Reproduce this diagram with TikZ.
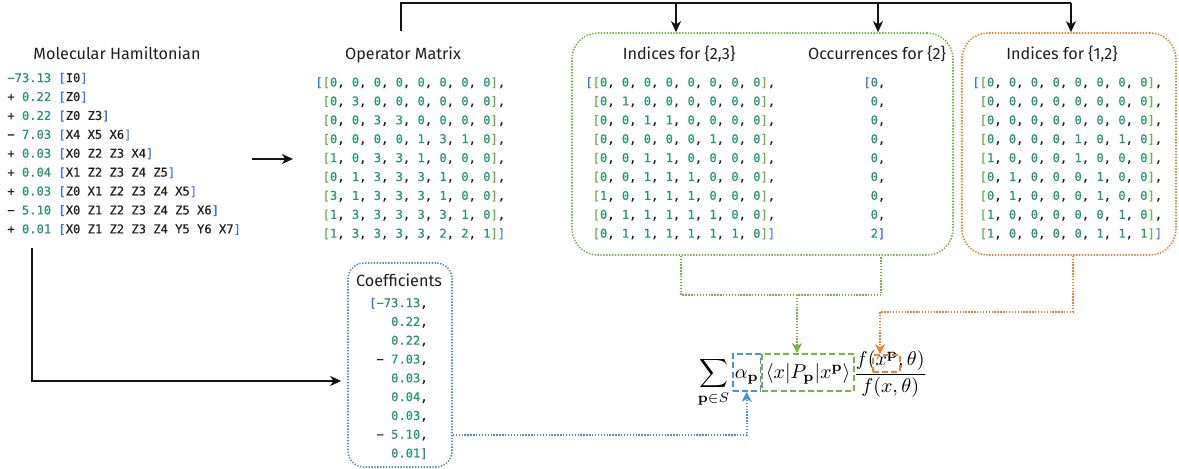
\documentclass[tikz,border=0pt]{standalone}
\usepackage[no-math]{fontspec}
\newfontfamily\headf{Fira Sans}
\newfontfamily\monof{DejaVu Sans Mono}[FakeBold=0.5]
\usetikzlibrary{arrows.meta,fit,calc}
\definecolor{numg}{HTML}{27936A}
\definecolor{brg}{HTML}{6AB04C}
\definecolor{brb}{HTML}{3B6FF0}
\definecolor{boxg}{HTML}{74B446}
\definecolor{boxo}{HTML}{F07F2E}
\definecolor{boxb}{HTML}{4A90E2}
\definecolor{txt}{HTML}{1E1E1E}
\newcommand\nm[1]{\textcolor{numg}{#1}}
\newcommand\bb[1]{\textcolor{brb}{#1}}
\newcommand\gbr[1]{\textcolor{brg}{#1}}
\newcommand\mr[8]{\gbr{[}\nm{#1},\ \nm{#2},\ \nm{#3},\ \nm{#4},\ \nm{#5},\ \nm{#6},\ \nm{#7},\ \nm{#8}\gbr{]}}
\newcommand\mpad{\phantom{[}}
\tikzset{
  head/.style={font=\headf\fontsize{8.1}{10}\selectfont, inner sep=0, anchor=base, text=txt},
  mono/.style={font=\monof\fontsize{6.06}{7}\selectfont, inner sep=0, text=txt},
  dotln/.style={line width=0.8pt, dash pattern=on 0.7pt off 0.75pt},
  gboxst/.style={draw=boxg, dotln, rounded corners=13pt, inner sep=0},
  oboxst/.style={draw=boxo, dotln, rounded corners=13pt, inner sep=0},
  bboxst/.style={draw=boxb, dotln, rounded corners=8pt, inner sep=0},
  blk/.style={draw=black!92, line width=1pt},
  tip/.style={-{Stealth[length=5.5pt,width=5pt,inset=1.6pt]}},
  ctip/.style={-{Stealth[length=5pt,width=5pt,inset=1.4pt]}},
  gline/.style={draw=boxg, dotln},
  oline/.style={draw=boxo, dotln},
  bline/.style={draw=boxb, dotln},
  dbox/.style={draw=#1, line width=0.8pt, dash pattern=on 3pt off 1.6pt, anchor=base west,
     text height=12.5pt, text depth=6pt, inner xsep=1pt, inner ysep=0},
}
\begin{document}
\begin{tikzpicture}[x=0.5pt,y=-0.5pt]
\useasboundingbox (0,0) rectangle (1179,469);

% ---------- boxes ----------
\node[gboxst, fit={(572,33) (953,255)}] (gbox) {};
\node[oboxst, fit={(962,33) (1176,255)}] (obox) {};
\node[bboxst, fit={(348,263) (452,467)}] (cbox) {};

% ---------- headings ----------
\node[head] (hamT) at (117,60) {Molecular Hamiltonian};
\node[head] (opT) at (403,60) {Operator Matrix};
\node[head] (indAT) at (679,60) {Indices for \{2,3\}};
\node[head] (occT) at (877,60) {Occurrences for \{2\}};
\node[head] (indBT) at (1062,60) {Indices for \{1,2\}};
\node[head] (coefT) at (399,287) {Coefficients};

% ---------- Hamiltonian ----------
\foreach \rowtxt [count=\i from 0] in {
  {\nm{−73.13} \bb{[}I0\bb{]}},
  {+ \nm{0.22} \bb{[}Z0\bb{]}},
  {+ \nm{0.22} \bb{[}Z0 Z3\bb{]}},
  {− \nm{7.03} \bb{[}X4 X5 X6\bb{]}},
  {+ \nm{0.03} \bb{[}X0 Z2 Z3 X4\bb{]}},
  {+ \nm{0.04} \bb{[}X1 Z2 Z3 Z4 Z5\bb{]}},
  {+ \nm{0.03} \bb{[}Z0 X1 Z2 Z3 Z4 X5\bb{]}},
  {− \nm{5.10} \bb{[}X0 Z1 Z2 Z3 Z4 Z5 X6\bb{]}},
  {+ \nm{0.01} \bb{[}X0 Z1 Z2 Z3 Z4 Y5 Y6 X7\bb{]}}}
  \node[mono, anchor=base west] (ham\i) at (7,{82.1+18.9*\i}) {\rowtxt};

% ---------- Operator matrix ----------
\foreach \rowtxt [count=\i from 0] in {
  {\bb{[}\mr{0}{0}{0}{0}{0}{0}{0}{0},},
  {\mpad\mr{0}{3}{0}{0}{0}{0}{0}{0},},
  {\mpad\mr{0}{0}{3}{3}{0}{0}{0}{0},},
  {\mpad\mr{0}{0}{0}{0}{1}{3}{1}{0},},
  {\mpad\mr{1}{0}{3}{3}{1}{0}{0}{0},},
  {\mpad\mr{0}{1}{3}{3}{3}{1}{0}{0},},
  {\mpad\mr{3}{1}{3}{3}{3}{1}{0}{0},},
  {\mpad\mr{1}{3}{3}{3}{3}{3}{1}{0},},
  {\mpad\mr{1}{3}{3}{3}{3}{2}{2}{1}\bb{]}}}
  \node[mono, anchor=base west] (op\i) at (315,{86.5+18.9*\i}) {\rowtxt};

% ---------- Indices for {2,3} ----------
\foreach \rowtxt [count=\i from 0] in {
  {\bb{[}\mr{0}{0}{0}{0}{0}{0}{0}{0},},
  {\mpad\mr{0}{1}{0}{0}{0}{0}{0}{0},},
  {\mpad\mr{0}{0}{1}{1}{0}{0}{0}{0},},
  {\mpad\mr{0}{0}{0}{0}{0}{1}{0}{0},},
  {\mpad\mr{0}{0}{1}{1}{0}{0}{0}{0},},
  {\mpad\mr{0}{0}{1}{1}{1}{0}{0}{0},},
  {\mpad\mr{1}{0}{1}{1}{1}{0}{0}{0},},
  {\mpad\mr{0}{1}{1}{1}{1}{1}{0}{0},},
  {\mpad\mr{0}{1}{1}{1}{1}{1}{1}{0}\bb{]}}}
  \node[mono, anchor=base west] (ia\i) at (585,{86.5+18.9*\i}) {\rowtxt};

% ---------- Occurrences for {2} ----------
\foreach \rowtxt [count=\i from 0] in {
  {\bb{[}\nm{0},}, {\mpad\nm{0},}, {\mpad\nm{0},}, {\mpad\nm{0},}, {\mpad\nm{0},},
  {\mpad\nm{0},}, {\mpad\nm{0},}, {\mpad\nm{0},}, {\mpad\nm{2}\bb{]}}}
  \node[mono, anchor=base west] (oc\i) at (863,{86.5+18.9*\i}) {\rowtxt};

% ---------- Indices for {1,2} ----------
\foreach \rowtxt [count=\i from 0] in {
  {\bb{[}\mr{0}{0}{0}{0}{0}{0}{0}{0},},
  {\mpad\mr{0}{0}{0}{0}{0}{0}{0}{0},},
  {\mpad\mr{0}{0}{0}{0}{0}{0}{0}{0},},
  {\mpad\mr{0}{0}{0}{0}{1}{0}{1}{0},},
  {\mpad\mr{1}{0}{0}{0}{1}{0}{0}{0},},
  {\mpad\mr{0}{1}{0}{0}{0}{1}{0}{0},},
  {\mpad\mr{0}{1}{0}{0}{0}{1}{0}{0},},
  {\mpad\mr{1}{0}{0}{0}{0}{0}{1}{0},},
  {\mpad\mr{1}{0}{0}{0}{0}{1}{1}{1}\bb{]}}}
  \node[mono, anchor=base west] (ib\i) at (972,{86.5+18.9*\i}) {\rowtxt};

% ---------- Coefficients ----------
\foreach \rowtxt [count=\i from 0] in {
  {\bb{[}\nm{−73.13},}, {\nm{0.22},}, {\nm{0.22},}, {− \nm{7.03},}, {\nm{0.03},},
  {\nm{0.04},}, {\nm{0.03},}, {− \nm{5.10},}, {\nm{0.01}\bb{]}}}
  \node[mono, anchor=base east] (co\i) at (428,{307.1+18.8*\i}) {\rowtxt};

% ---------- formula ----------
\node[anchor=base, inner sep=0] (sumN) at (713.5,379) {$\displaystyle\sum_{\mathbf{p}\in S}$};
\node[dbox=boxb] (alphaN) at (732,379) {$\alpha_{\mathbf p}$};
\node[dbox=boxg, inner xsep=1.8pt] (braketN) at (alphaN.base east) {$\langle x|P_{\mathbf p}|x^{\mathbf p}\rangle$};
\node[anchor=base west, inner sep=0] (fracN) at (853,379) {$\displaystyle\frac{f(x^{\mathbf p},\theta)}{f(x,\theta)}$};
\node[draw=boxo, line width=0.8pt, dash pattern=on 3pt off 1.6pt, inner sep=0,
      fit={(873,355) (900,372)}] (xpN) {};

% ---------- black connectors ----------
\coordinate (opUp) at (401,31);
\draw[blk] (opUp) -- (401,3) -- (1071,3) coordinate (barR);
\draw[blk,tip] (barR) -- (barR |- obox.north);
\coordinate (bar1) at (676,3);
\coordinate (bar2) at (878,3);
\draw[blk,tip] (bar1) -- (bar1 |- gbox.north);
\draw[blk,tip] (bar2) -- (bar2 |- gbox.north);

\coordinate (hamOut) at (252,159);
\coordinate (opIn) at (293,159);
\draw[blk,tip] (hamOut) -- (opIn);

\coordinate (hamDown) at (32,248);
\draw[blk,tip,shorten >=3pt] (hamDown) |- (cbox.west |- 0,381);

% ---------- coloured connectors ----------
\draw[gline] (gbox.south -| 681,0) -- (681,295) -- (881,295) -- (gbox.south -| 881,0);
\coordinate (gmid) at (797,295);
\draw[gline,ctip] (gmid) -- (gmid |- braketN.north);
\draw[oline,ctip] (obox.south -| 1073,0) |- (880,312) -- (880,0 |- xpN.north);
\draw[bline,ctip] (cbox.east |- 0,435) -| (alphaN.south);
\end{tikzpicture}
\end{document}
